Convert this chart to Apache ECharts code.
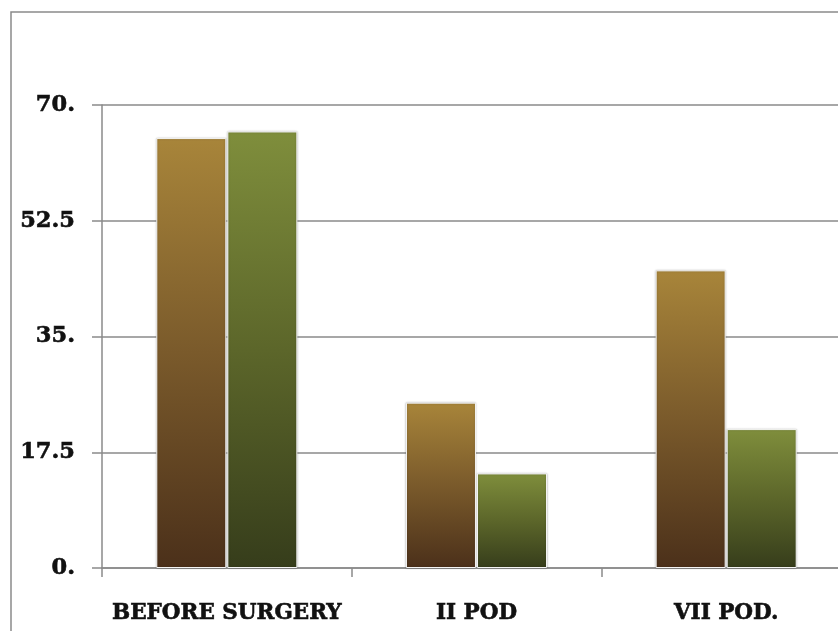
<!DOCTYPE html>
<html>
<head>
<meta charset="utf-8">
<style>
  html, body { margin: 0; padding: 0; background: #fff; overflow: hidden; }
  #wrap { width: 838px; height: 631px; overflow: hidden; }
  /* the plot runs past the right edge of the page, so the canvas is wider */
  #chart { width: 852px; height: 631px; }
</style>
<script src="https://cdn.jsdelivr.net/npm/echarts@6/dist/echarts.min.js"></script>
</head>
<body>
<div id="wrap"><div id="chart"></div></div>
<script>
// Time points on the x axis
const categories = ['BEFORE SURGERY', 'II POD', 'VII POD.'];
// Two measured series per time point
const seriesBrown = [65, 25, 45];
const seriesGreen = [66, 14.3, 21];
// Value axis tick labels (0 .. 70 in steps of 17.5)
const yTicks = [0, 17.5, 35, 52.5, 70];
const yTickLabels = ['0.', '17.5', '35.', '52.5', '70.'];

const chart = echarts.init(document.getElementById('chart'), null, { renderer: 'canvas' });

function barGradient(top, mid, bottom) {
  return new echarts.graphic.LinearGradient(0, 0, 0, 1, [
    { offset: 0, color: top },
    { offset: 0.5, color: mid },
    { offset: 1, color: bottom }
  ]);
}

const labelFont = {
  fontFamily: '"DejaVu Serif", "Liberation Serif", serif',
  fontWeight: 'bold',
  color: '#111',
  textBorderColor: '#111',
  textBorderWidth: 0.6
};

const option = {
  animation: false,
  backgroundColor: '#fff',
  graphic: [{
    type: 'rect',
    shape: { x: 11, y: 12, width: 900, height: 700 },
    style: { fill: 'none', stroke: '#8a8a8a', lineWidth: 1.5 },
    silent: true
  }],
  grid: { left: 102, right: 1, top: 105, bottom: 63, containLabel: false },
  xAxis: {
    type: 'category',
    data: categories,
    axisLine: { show: true, lineStyle: { color: '#8a8a8a', width: 1.5 } },
    axisTick: { show: true, length: 9, lineStyle: { color: '#8a8a8a', width: 1.5 } },
    axisLabel: Object.assign({ fontSize: 21.5, margin: 34, interval: 0 }, labelFont)
  },
  yAxis: {
    type: 'value',
    min: 0,
    max: 70,
    interval: 17.5,
    axisLine: { show: true, lineStyle: { color: '#8a8a8a', width: 1.5 } },
    axisTick: { show: true, length: 10, lineStyle: { color: '#8a8a8a', width: 1.5 } },
    splitLine: { show: true, lineStyle: { color: '#8a8a8a', width: 1.5 } },
    axisLabel: Object.assign({
      fontSize: 22.5,
      margin: 27,
      formatter: function (v) {
        const i = yTicks.indexOf(v);
        return i >= 0 ? yTickLabels[i] : '';
      }
    }, labelFont)
  },
  series: [
    {
      type: 'bar',
      data: seriesBrown,
      barWidth: 70,
      barGap: '1.5%',
      itemStyle: {
        color: barGradient('#a8853a', '#7a5a2b', '#4b301a'),
        borderColor: '#f4f4f4',
        borderWidth: 1,
        shadowColor: 'rgba(0,0,0,0.25)',
        shadowBlur: 2
      }
    },
    {
      type: 'bar',
      data: seriesGreen,
      barWidth: 70,
      itemStyle: {
        color: barGradient('#7f8e3c', '#5c662a', '#363d1b'),
        borderColor: '#f4f4f4',
        borderWidth: 1,
        shadowColor: 'rgba(0,0,0,0.25)',
        shadowBlur: 2
      }
    }
  ]
};

chart.setOption(option);
</script>
</body>
</html>
